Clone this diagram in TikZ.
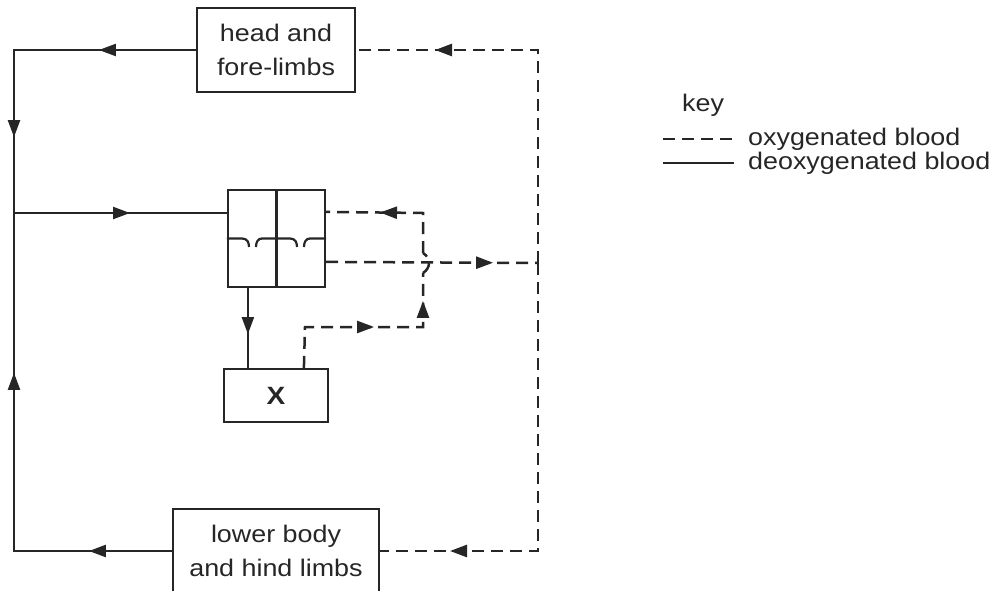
\documentclass[tikz,border=0pt]{standalone}
\usepackage{fontspec}
\setmainfont[FakeStretch=1.12]{Liberation Sans}
\usetikzlibrary{arrows.meta,decorations.markings,calc}
\begin{document}
\begin{tikzpicture}[x=1pt,y=-1pt,
  solidline/.style={line width=2.2pt, draw=black!85},
  dashline/.style={line width=2.5pt, draw=black!85, dash pattern=on 12pt off 7pt},
  organ/.style={draw=black!85, line width=2.2pt, inner sep=0pt, align=center, text=black!85, font=\fontsize{24}{34}\selectfont},
  keytext/.style={text=black!85, inner sep=0pt, font=\fontsize{24}{30}\selectfont},
  tipone/.style={postaction={decorate}, decoration={markings, mark=at position #1 with {\arrow{Triangle[length=17pt,width=12pt]}}}},
  tiptwo/.style 2 args={postaction={decorate}, decoration={markings, mark=at position #1 with {\arrow{Triangle[length=17pt,width=12pt]}}, mark=at position #2 with {\arrow{Triangle[length=17pt,width=12pt]}}}},
]
\useasboundingbox (0,0) rectangle (995,591);

% organs
\node[organ, minimum width=158pt, minimum height=84pt] (head) at (276,50) {head and\\fore-limbs};
\node[organ, minimum width=206pt, minimum height=84pt] (lower) at (276,551) {lower body\\and hind limbs};
\node[draw=black!85, line width=2.2pt, minimum width=97pt, minimum height=97pt, inner sep=0pt] (heart) at (276.5,238.5) {};
\node[organ, minimum width=104pt, minimum height=53pt, font=\bfseries\fontsize{25}{30}\selectfont] (X) at (276,395.5) {X};

% heart interior
\draw[solidline] (heart.north) -- (heart.south);
\draw[solidline] (heart.west) -- (242,238.5) .. controls (247,238.5) and (249,242) .. (249,247);
\draw[solidline] (256,247) .. controls (256,242) and (258,238.5) .. (262,238.5) -- (290,238.5) .. controls (295,238.5) and (297,242) .. (297,247);
\draw[solidline] (304,247) .. controls (304,242) and (306,238.5) .. (310,238.5) -- (heart.east);

% coordinates
\coordinate (TL) at (14,50);
\coordinate (J) at (14,213);
\coordinate (BL) at (14,551);
\coordinate (TR) at (538,50);
\coordinate (BR) at (538,551);
\coordinate (R) at (538,263);
\coordinate (hin) at (J -| heart.west);
\coordinate (hout1) at ($(heart.north east)+(0,23)$);
\coordinate (hout2) at ($(heart.north east)+(0,73)$);
\coordinate (hdown) at ($(heart.south west)+(21,0)$);
\coordinate (xup) at ($(X.north west)+(81,0)$);
\coordinate (c1) at (305,327);
\coordinate (c2) at (423,327);
\coordinate (hopb) at (423,273);
\coordinate (hopt) at (423,253);
\coordinate (c3) at (423,213);

% deoxygenated
\draw[solidline, tiptwo={97pt}{269pt}] (head.west) -- (TL) -- (J);
\draw[solidline, tiptwo={83pt}{336pt}] (lower.west) -- (BL) -- (J);
\draw[solidline, tipone=116pt] (J) -- (hin);
\draw[solidline, tipone=46pt] (hdown) -- (hdown |- X.north);

% oxygenated
\draw[dashline, tiptwo={110pt}{185pt}] (xup) -- (c1) -- (c2) -- (hopb);
\draw[dashline] (hopb) .. controls (431,268) and (431,258) .. (hopt);
\draw[dashline, tipone=83pt] (hopt) -- (c3) -- (hout1);
\draw[dashline, tipone=167pt] (hout2) -- (R);
\draw[dashline, tipone=316pt] (R) -- (TR) -- (head.east);
\draw[dashline, tipone=376pt] (R) -- (BR) -- (lower.east);

% key
\node[keytext, anchor=base west] (keyt) at (682,112) {key};
\node[keytext, anchor=west] (oxy) at (748,139) {oxygenated blood};
\node[keytext, anchor=west] (deoxy) at (748,163) {deoxygenated blood};
\draw[line width=2.5pt, draw=black!85, dash pattern=on 12pt off 7pt] ($(oxy.west)+(-85,0)$) -- ($(oxy.west)+(-14,0)$);
\draw[solidline] ($(deoxy.west)+(-85,0)$) -- ($(deoxy.west)+(-14,0)$);
\end{tikzpicture}
\end{document}
